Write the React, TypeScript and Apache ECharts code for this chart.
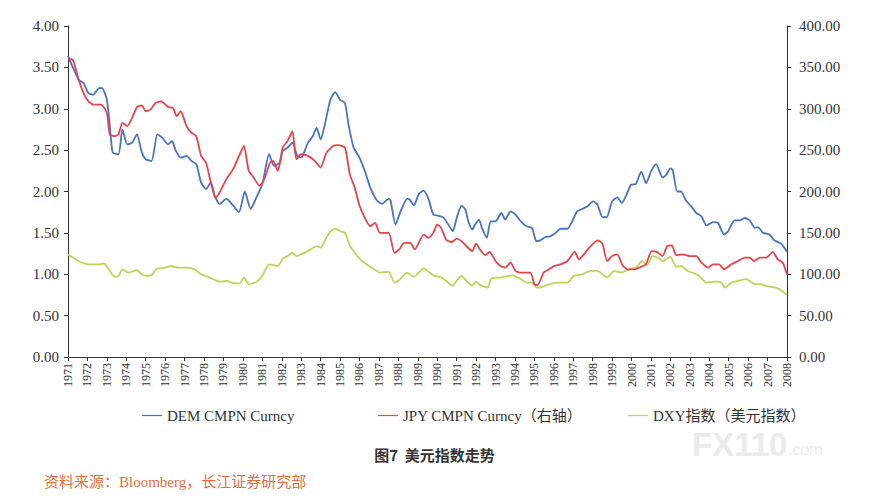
import React, { useEffect, useRef } from "react";
import * as echarts from "echarts";

// x tick labels (years)
const yearMin = 1971;
const yearMax = 2008;

// DEM CMPN Curncy (left axis)
const demYears = [
  1971.0, 1971.25, 1971.55, 1971.8, 1972.05, 1972.3, 1972.6, 1972.75, 1973.0, 1973.15, 1973.3, 1973.6,
  1973.8, 1974.05, 1974.3, 1974.55, 1974.8, 1975.0, 1975.3, 1975.6, 1975.85, 1976.15, 1976.35, 1976.55,
  1976.8, 1977.1, 1977.35, 1977.6, 1977.85, 1978.1, 1978.35, 1978.55, 1978.8, 1979.15, 1979.5, 1979.8,
  1980.1, 1980.4, 1980.7, 1981.0, 1981.35, 1981.6, 1981.9, 1982.05, 1982.3, 1982.55, 1982.8, 1983.0,
  1983.35, 1983.6, 1983.8, 1984.0, 1984.2, 1984.5, 1984.75, 1985.0, 1985.25, 1985.45, 1985.7, 1986.0,
  1986.3, 1986.55, 1986.9, 1987.15, 1987.5, 1987.6, 1987.85, 1988.1, 1988.45, 1988.6, 1988.8, 1989.05,
  1989.3, 1989.55, 1989.8, 1990.0, 1990.3, 1990.57, 1990.8, 1991.0, 1991.25, 1991.45, 1991.6, 1991.8,
  1991.95, 1992.15, 1992.3, 1992.55, 1992.75, 1993.0, 1993.3, 1993.5, 1993.77, 1994.03, 1994.3, 1994.6,
  1994.88, 1995.1, 1995.3, 1995.57, 1995.83, 1996.1, 1996.35, 1996.7, 1996.95, 1997.2, 1997.47, 1997.72,
  1998.03, 1998.25, 1998.5, 1998.72, 1999.0, 1999.27, 1999.5, 1999.7, 1999.97, 2000.22, 2000.5, 2000.75,
  2001.0, 2001.26, 2001.6, 2001.78, 2002.0, 2002.12, 2002.35, 2002.55, 2002.8, 2003.07, 2003.33, 2003.6,
  2003.85, 2004.2, 2004.45, 2004.76, 2004.97, 2005.3, 2005.57, 2005.83, 2006.08, 2006.35, 2006.5, 2006.77,
  2007.1, 2007.35, 2007.7, 2008.0,
];
const demValues = [
  3.64, 3.5, 3.35, 3.31, 3.19, 3.17, 3.25, 3.25, 3.11, 2.8, 2.47, 2.45,
  2.75, 2.57, 2.59, 2.69, 2.47, 2.39, 2.37, 2.69, 2.65, 2.57, 2.61, 2.49,
  2.41, 2.43, 2.37, 2.33, 2.11, 2.03, 2.11, 1.95, 1.85, 1.91, 1.83, 1.75,
  2.0, 1.79, 1.93, 2.09, 2.45, 2.31, 2.35, 2.49, 2.53, 2.59, 2.43, 2.41,
  2.59, 2.67, 2.77, 2.63, 2.79, 3.11, 3.2, 3.11, 3.07, 2.79, 2.53, 2.41,
  2.23, 2.05, 1.89, 1.85, 1.91, 1.89, 1.6, 1.75, 1.91, 1.9, 1.83, 1.97,
  2.01, 1.91, 1.72, 1.71, 1.69, 1.6, 1.52, 1.68, 1.83, 1.78, 1.64, 1.54,
  1.6, 1.66, 1.56, 1.44, 1.64, 1.64, 1.74, 1.66, 1.76, 1.72, 1.64, 1.58,
  1.56, 1.4, 1.41, 1.45, 1.46, 1.5, 1.55, 1.55, 1.64, 1.76, 1.79, 1.82,
  1.88, 1.84, 1.69, 1.69, 1.88, 1.93, 1.86, 1.94, 2.08, 2.09, 2.24, 2.1,
  2.24, 2.33, 2.17, 2.2, 2.28, 2.26, 2.0, 2.0, 1.89, 1.82, 1.74, 1.7,
  1.59, 1.63, 1.62, 1.48, 1.52, 1.65, 1.65, 1.68, 1.65, 1.56, 1.57, 1.5,
  1.48, 1.41, 1.37, 1.27,
];

// JPY CMPN Curncy (right axis)
const jpyYears = [
  1971.0, 1971.25, 1971.55, 1971.8, 1972.05, 1972.3, 1972.7, 1973.0, 1973.15, 1973.4, 1973.6, 1973.8,
  1974.05, 1974.3, 1974.55, 1974.8, 1975.0, 1975.25, 1975.5, 1975.8, 1976.15, 1976.4, 1976.6, 1976.8,
  1977.1, 1977.35, 1977.6, 1977.85, 1978.1, 1978.35, 1978.6, 1978.8, 1979.15, 1979.5, 1979.8, 1980.05,
  1980.3, 1980.55, 1980.85, 1981.1, 1981.4, 1981.55, 1981.8, 1982.05, 1982.3, 1982.55, 1982.75, 1983.0,
  1983.35, 1983.7, 1984.0, 1984.3, 1984.65, 1984.9, 1985.25, 1985.5, 1985.75, 1986.0, 1986.3, 1986.55,
  1986.8, 1987.05, 1987.5, 1987.8, 1988.05, 1988.3, 1988.6, 1988.85, 1989.3, 1989.55, 1989.8, 1990.0,
  1990.2, 1990.48, 1990.75, 1991.0, 1991.25, 1991.5, 1991.8, 1992.0, 1992.2, 1992.48, 1992.7, 1993.0,
  1993.25, 1993.5, 1993.77, 1994.03, 1994.3, 1994.55, 1994.8, 1995.0, 1995.17, 1995.48, 1995.75, 1996.03,
  1996.35, 1996.7, 1997.07, 1997.3, 1997.55, 1997.86, 1998.25, 1998.5, 1998.75, 1999.0, 1999.27, 1999.53,
  1999.8, 2000.14, 2000.4, 2000.74, 2001.03, 2001.3, 2001.6, 2001.83, 2002.07, 2002.3, 2002.64, 2002.98,
  2003.33, 2003.6, 2003.93, 2004.2, 2004.5, 2004.76, 2005.14, 2005.48, 2005.83, 2006.08, 2006.3, 2006.6,
  2006.93, 2007.27, 2007.52, 2007.78, 2008.0,
];
const jpyValues = [
  361, 359, 335, 319, 309, 305, 305, 295, 269, 267, 269, 283,
  279, 289, 302, 304, 297, 299, 307, 309, 302, 301, 291, 297,
  279, 271, 267, 243, 235, 211, 192, 199, 215, 227, 243, 255,
  225, 217, 207, 215, 235, 237, 225, 253, 261, 273, 239, 245,
  243, 237, 229, 247, 255, 256, 253, 221, 205, 183, 167, 158,
  162, 150, 150, 126, 130, 138, 138, 130, 148, 144, 150, 160,
  156, 141, 139, 143, 140, 134, 128, 137, 130, 123, 127, 116,
  110, 108, 114, 104, 102, 102, 102, 88, 87, 102, 106, 110,
  112, 116, 127, 118, 124, 133, 141, 137, 116, 122, 124, 111,
  106, 106, 108, 112, 128, 127, 122, 134, 135, 123, 124, 122,
  122, 114, 108, 112, 112, 106, 112, 116, 120, 120, 116, 120,
  120, 127, 118, 114, 100,
];

// DXY index (right axis)
const dxyYears = [
  1971.0, 1971.55, 1972.05, 1972.6, 1972.85, 1973.15, 1973.4, 1973.6, 1973.8, 1974.1, 1974.55, 1974.8,
  1975.05, 1975.3, 1975.6, 1975.85, 1976.3, 1976.65, 1977.1, 1977.5, 1977.85, 1978.3, 1978.8, 1979.15,
  1979.6, 1979.85, 1980.05, 1980.3, 1980.7, 1981.0, 1981.35, 1981.8, 1982.05, 1982.3, 1982.55, 1982.75,
  1983.0, 1983.35, 1983.8, 1984.0, 1984.2, 1984.5, 1984.75, 1985.0, 1985.25, 1985.5, 1985.75, 1986.0,
  1986.35, 1986.7, 1987.05, 1987.5, 1987.8, 1988.05, 1988.45, 1988.8, 1989.3, 1989.6, 1989.85, 1990.1,
  1990.3, 1990.8, 1991.0, 1991.25, 1991.5, 1991.8, 1992.0, 1992.2, 1992.6, 1992.78, 1993.25, 1993.7,
  1993.85, 1994.3, 1994.6, 1994.88, 1995.1, 1995.3, 1995.65, 1996.17, 1996.7, 1997.03, 1997.47, 1997.9,
  1998.25, 1998.6, 1998.75, 1999.1, 1999.45, 1999.88, 2000.22, 2000.55, 2000.8, 2001.08, 2001.35, 2001.6,
  2002.0, 2002.3, 2002.55, 2002.9, 2003.42, 2003.85, 2004.3, 2004.62, 2004.8, 2005.14, 2005.48, 2005.9,
  2006.35, 2006.6, 2006.93, 2007.35, 2007.6, 2008.0,
];
const dxyValues = [
  124, 116, 112, 112, 113, 104, 97, 98, 106, 102, 105, 100,
  98, 99, 107, 107, 110, 108, 108, 106, 100, 96, 91, 92,
  89, 89, 96, 88, 91, 98, 112, 110, 119, 122, 126, 122,
  124, 128, 134, 132, 140, 152, 155, 152, 150, 135, 126, 119,
  112, 107, 102, 103, 90, 93, 102, 97, 107, 102, 98, 97,
  95, 86, 92, 98, 92, 86, 91, 87, 84, 95, 96, 98,
  99, 94, 90, 90, 84, 84, 87, 90, 90, 98, 100, 104,
  104, 98, 96, 104, 102, 106, 108, 116, 111, 122, 120, 116,
  121, 109, 110, 104, 99, 90, 91, 90, 84, 90, 92, 94,
  88, 88, 86, 84, 82, 75,
];

const seriesNames = ["DEM CMPN Curncy", "JPY CMPN Curncy（右轴）", "DXY指数（美元指数）"];
const seriesColors = ["#4a72c4", "#e5454a", "#bcd45a"];

const zip = (xs: number[], ys: number[]) => xs.map((x, i) => [x, ys[i]]);

const SERIF = '"Liberation Serif", "Times New Roman", "Noto Sans CJK SC", serif';

export default function App() {
  const ref = useRef<HTMLDivElement>(null);
  useEffect(() => {
    if (!ref.current) return;
    const chart = echarts.init(ref.current, null, { renderer: "svg" });
    const legendCommon = {
      top: 403,
      icon: "rect",
      itemWidth: 20,
      itemHeight: 1.2,
      textStyle: { fontFamily: SERIF, fontSize: 15, color: "#333" },
      itemGap: 0,
    };
    chart.setOption({
      animation: false,
      backgroundColor: "#ffffff",
      grid: { left: 68, right: 82, top: 26, bottom: 145, containLabel: false },
      legend: [
        { ...legendCommon, left: 137, data: [seriesNames[0]] },
        { ...legendCommon, left: 373, data: [seriesNames[1]] },
        { ...legendCommon, left: 623, data: [seriesNames[2]] },
      ],
      xAxis: {
        type: "value",
        min: yearMin,
        max: yearMax,
        interval: 1,
        splitLine: { show: false },
        axisLine: { lineStyle: { color: "#333", width: 1 } },
        axisTick: { show: true, length: 4, lineStyle: { color: "#333" } },
        axisLabel: {
          rotate: 90,
          margin: 6,
          fontFamily: SERIF,
          fontSize: 12,
          color: "#333",
          formatter: (v: number) => String(Math.round(v)),
          showMinLabel: true,
          showMaxLabel: true,
        },
      },
      yAxis: [
        {
          type: "value",
          min: 0,
          max: 4,
          interval: 0.5,
          position: "left",
          splitLine: { show: false },
          axisLine: { show: true, lineStyle: { color: "#333", width: 1 } },
          axisTick: { show: true, length: 4, lineStyle: { color: "#333" } },
          axisLabel: {
            margin: 9,
            fontFamily: SERIF,
            fontSize: 15,
            color: "#333",
            formatter: (v: number) => v.toFixed(2),
          },
        },
        {
          type: "value",
          min: 0,
          max: 400,
          interval: 50,
          position: "right",
          splitLine: { show: false },
          axisLine: { show: true, lineStyle: { color: "#333", width: 1 } },
          axisTick: { show: true, length: 4, lineStyle: { color: "#333" } },
          axisLabel: {
            margin: 12,
            fontFamily: SERIF,
            fontSize: 15,
            color: "#333",
            formatter: (v: number) => v.toFixed(2),
          },
        },
      ],
      series: [
        {
          name: seriesNames[0],
          type: "line",
          yAxisIndex: 0,
          data: zip(demYears, demValues),
          showSymbol: false,
          smooth: 0.2,
          lineStyle: { width: 1.8, color: seriesColors[0] },
          itemStyle: { color: seriesColors[0] },
          z: 3,
        },
        {
          name: seriesNames[1],
          type: "line",
          yAxisIndex: 1,
          data: zip(jpyYears, jpyValues),
          showSymbol: false,
          smooth: 0.2,
          lineStyle: { width: 1.8, color: seriesColors[1] },
          itemStyle: { color: seriesColors[1] },
          z: 4,
        },
        {
          name: seriesNames[2],
          type: "line",
          yAxisIndex: 1,
          data: zip(dxyYears, dxyValues),
          showSymbol: false,
          smooth: 0.2,
          lineStyle: { width: 1.8, color: seriesColors[2] },
          itemStyle: { color: seriesColors[2] },
          z: 2,
        },
      ],
      graphic: [
        {
          type: "text",
          left: "center",
          top: 447,
          style: {
            text: "图7  美元指数走势",
            font: 'bold 15px "Noto Sans CJK SC", sans-serif',
            fill: "#333",
          },
        },
        {
          type: "text",
          left: 44,
          top: 474,
          style: {
            text: "资料来源：Bloomberg，长江证券研究部",
            font: '15px "Liberation Serif", "Noto Sans CJK SC", serif',
            fill: "#e2703e",
          },
        },
        {
          type: "text",
          left: 692,
          top: 428,
          style: {
            text: "FX110",
            font: 'bold 33px "Liberation Sans Narrow", "Liberation Sans", sans-serif',
            fill: "#ebebeb",
          },
          z: -1,
        },
        {
          type: "text",
          left: 788,
          top: 441,
          style: {
            text: ".com",
            font: '16px "Liberation Sans", sans-serif',
            fill: "#ebebeb",
          },
          z: -1,
        },
      ],
    });
    return () => chart.dispose();
  }, []);
  return (
    <div
      ref={ref}
      style={{ position: "fixed", left: 0, top: 0, width: 869, height: 502, background: "#fff" }}
    />
  );
}
